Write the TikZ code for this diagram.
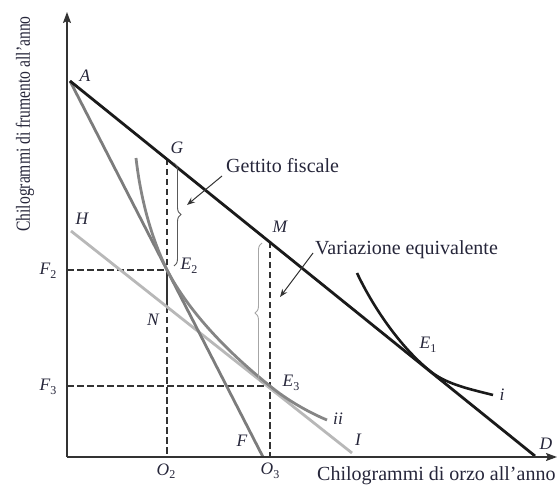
\documentclass[tikz,border=0pt]{standalone}
\usepackage{fontspec}
\setmainfont{Liberation Serif}
\usetikzlibrary{arrows.meta,decorations.pathreplacing,calc}
\definecolor{txt}{HTML}{26263A}
\definecolor{blk}{HTML}{1A1A1A}
\definecolor{gmid}{HTML}{7C7C7C}
\definecolor{gcurve}{HTML}{858585}
\definecolor{glight}{HTML}{B8B8B8}
\definecolor{axisc}{HTML}{333333}
\newcommand{\ptsub}[2]{#1\raisebox{-3.5pt}{\upshape\fontsize{12}{13}\selectfont #2}}
\begin{document}
\begin{tikzpicture}[x=1pt,y=-1pt,
  axisline/.style={draw=axisc,line width=1.4pt,-{Stealth[length=11pt,width=8pt,inset=2pt]}},
  dashline/.style={draw=axisc,line width=1.3pt,dash pattern=on 6.5pt off 3.5pt},
  solidline/.style={draw=axisc,line width=1.3pt},
  budget/.style={draw=blk,line width=2.8pt},
  taxline/.style={draw=gmid,line width=2.8pt},
  evline/.style={draw=glight,line width=2.8pt},
  icurve/.style={draw=blk,line width=2.6pt},
  iicurve/.style={draw=gcurve,line width=2.8pt},
  pt/.style={font=\fontsize{17.5}{19}\selectfont\itshape,text=txt,inner sep=0pt},
  lbl/.style={font=\fontsize{20}{22}\selectfont,text=txt,inner sep=0pt},
  bracedark/.style={draw=black!65,line width=0.9pt,decorate,decoration={brace,amplitude=7pt}},
  bracelight/.style={draw=black!35,line width=0.9pt,decorate,decoration={brace,amplitude=7pt}},
  callout/.style={draw=axisc,line width=1pt,-{Stealth[length=8pt,width=6pt]}}
]
\useasboundingbox (0,0) rectangle (557,486);

% key points
\coordinate (O) at (67,457);
\coordinate (Ytop) at (67,12);
\coordinate (Xend) at (557,457);
\coordinate (A) at (70,81);
\coordinate (D) at (535,456);
\coordinate (F) at (263,457);
\coordinate (H) at (71,231);
\coordinate (I) at (352,453);
\coordinate (G) at (167,159);
\coordinate (M) at (270,242);
\coordinate (E2) at (167,270);
\coordinate (N) at (167,307);
\coordinate (E3) at (270,386);
\coordinate (E1) at (430,371);
\coordinate (O2) at (167,457);
\coordinate (O3) at (270,457);
\coordinate (F2) at (67,270);
\coordinate (F3) at (67,386);
\coordinate (iiS) at (136,158);
\coordinate (iiE) at (327,420);
\coordinate (iS) at (357,273);
\coordinate (iE) at (493,395);

% dashed guides
\draw[dashline] (G) -- (E2);
\draw[solidline] (E2) -- (N);
\draw[dashline] (N) -- (O2);
\draw[dashline] (F2) -- (E2);
\draw[dashline] (M) -- (O3);
\draw[dashline] (F3) -- (E3);

% budget lines
\draw[evline] (H) -- (I);
\draw[taxline] (A) -- (F);
\draw[iicurve] (iiS) .. controls (140,193) and (149,233) .. (E2)
  .. controls (190,314) and (231,355) .. (E3)
  .. controls (287,400) and (308,412) .. (iiE);
\draw[budget] (A) -- (D);
\draw[icurve] (iS) .. controls (372,305) and (399,346) .. (E1)
  .. controls (447,385) and (474,390) .. (iE);

% axes
\draw[axisline] (O) -- (Ytop);
\draw[axisline] (O) -- (Xend);

% braces
\coordinate (gb1) at (174,163);
\coordinate (gb2) at (174,266);
\coordinate (vb1) at (262,383);
\coordinate (vb2) at (262,243);
\draw[bracedark] (gb1) -- (gb2);
\draw[bracelight] (vb1) -- (vb2);

% text
\node[lbl,anchor=west] (gf) at (226,166) {Gettito fiscale};
\node[lbl,anchor=west] (ve) at (315,250) {Variazione equivalente};
\node[lbl,anchor=west] (xl) at (317,476) {Chilogrammi di orzo all’anno};
\node[lbl,rotate=90] (yl) at (25,124) {\scalebox{0.78}[1]{Chilogrammi di frumento all’anno}};

\coordinate (gfa) at (222,176);
\coordinate (gft) at (187,205);
\coordinate (vea) at (313,253);
\coordinate (vet) at (280,297);
\draw[callout] (gfa) -- (gft);
\draw[callout] (vea) -- (vet);

% point labels
\node[pt] (lA) at (85,76) {A};
\node[pt] (lG) at (177,148) {G};
\node[pt] (lH) at (82,219) {H};
\node[pt] (lM) at (280,227) {M};
\node[pt] (lE2) at (189,266) {\ptsub{E}{2}};
\node[pt] (lN) at (153,320) {N};
\node[pt] (lF2) at (48,271) {\ptsub{F}{2}};
\node[pt] (lF3) at (48,387) {\ptsub{F}{3}};
\node[pt] (lE3) at (291,383) {\ptsub{E}{3}};
\node[pt] (lE1) at (428,345) {\ptsub{E}{1}};
\node[pt] (lii) at (338,419) {ii};
\node[pt] (li) at (502,395) {i};
\node[pt] (lI) at (358,440) {I};
\node[pt] (lF) at (242,441) {F};
\node[pt] (lD) at (546,444) {D};
\node[pt] (lO2) at (166,471) {\ptsub{O}{2}};
\node[pt] (lO3) at (270,471) {\ptsub{O}{3}};
\end{tikzpicture}
\end{document}
